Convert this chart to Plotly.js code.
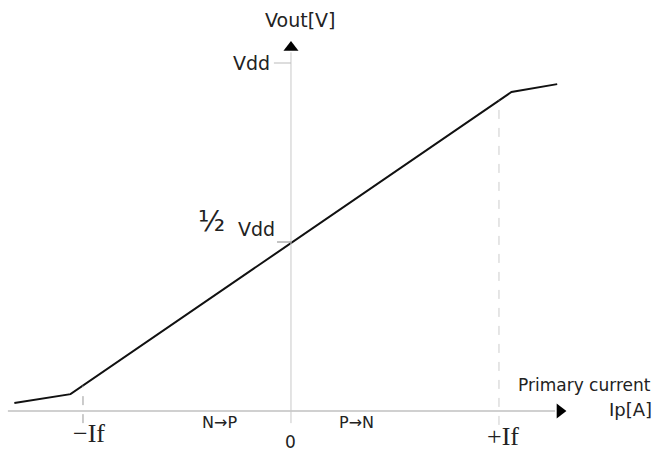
<!DOCTYPE html>
<html>
<head>
<meta charset="utf-8">
<script src="https://cdn.plot.ly/plotly-3.0.1.min.js"></script>
<style>html,body{margin:0;padding:0;background:#fff;}#chart{width:656px;height:454px;}</style>
</head>
<body>
<div id="chart"></div>
<script>
// Characteristic curve (x in units of If, y in units of Vdd)
var currentIf = [-1.33, -1.06, 1.06, 1.28];
var voutVdd = [0.050, 0.075, 0.919, 0.941];
// Tick positions and labels
var xTickVals = [-1, 0, 1];
var xTickText = ['\u2212If', '0', '+If'];
var yTickVals = [1, 0.5];
var yTickText = ['Vdd', 'Vdd'];
var axisY = 0.028; // horizontal axis position (schematic)

function interp(x) {
  for (var i = 0; i < currentIf.length - 1; i++) {
    if (x >= currentIf[i] && x <= currentIf[i + 1]) {
      var t = (x - currentIf[i]) / (currentIf[i + 1] - currentIf[i]);
      return voutVdd[i] + t * (voutVdd[i + 1] - voutVdd[i]);
    }
  }
  return 0;
}

var sans = '"DejaVu Sans", "Noto Sans", sans-serif';
var serif = '"Liberation Serif", "DejaVu Serif", serif';

var traces = [
  {x: currentIf, y: voutVdd, mode: 'lines', line: {color: '#111', width: 2}, hoverinfo: 'skip'},
  {x: [1.293], y: [axisY], mode: 'markers', marker: {symbol: 'triangle-right', size: 13, color: '#000'}, hoverinfo: 'skip'},
  {x: [0], y: [1.043], mode: 'markers', marker: {symbol: 'triangle-up', size: 13, color: '#000'}, hoverinfo: 'skip'}
];

var shapes = [
  {type: 'line', x0: -1.361, x1: 1.27, y0: axisY, y1: axisY, line: {color: '#d0d0d0', width: 2}},
  {type: 'line', x0: 0, x1: 0, y0: -0.006, y1: 1.03, line: {color: '#c8c8c8', width: 1}},
  {type: 'line', x0: -0.082, x1: 0, y0: yTickVals[0], y1: yTickVals[0], line: {color: '#bbb', width: 1}},
  {type: 'line', x0: -0.067, x1: 0, y0: yTickVals[1], y1: yTickVals[1], line: {color: '#888', width: 1}},
  {type: 'line', x0: xTickVals[0], x1: xTickVals[0], y0: -0.006, y1: interp(xTickVals[0]), line: {color: '#999', width: 1, dash: 'dash'}},
  {type: 'line', x0: xTickVals[2], x1: xTickVals[2], y0: -0.011, y1: interp(xTickVals[2]), line: {color: '#ccc', width: 1, dash: 'dash'}}
];

function ann(x, y, text, size, fam, xanchor) {
  return {x: x, y: y, xref: 'x', yref: 'y', text: text, showarrow: false,
    font: {family: fam, size: size, color: '#222'}, xanchor: xanchor || 'center', yanchor: 'middle'};
}

var annotations = [
  ann(0.043, 1.121, 'Vout[V]', 19, sans),
  ann(-0.091, yTickVals[0], yTickText[0], 19, sans, 'right'),
  ann(-0.380, 0.556, '\u00BD', 28, sans),
  ann(-0.168, 0.537, yTickText[1], 19, sans),
  ann(1.409, 0.101, 'Primary current', 17, sans),
  ann(1.745, 0.031, 'Ip[A]', 18, sans, 'right'),
  ann(-0.97, -0.036, xTickText[0], 26, serif),
  ann(xTickVals[1], -0.058, xTickText[1], 17, sans),
  ann(1.02, -0.042, xTickText[2], 26, serif),
  ann(-0.346, -0.005, 'N\u2192P', 16, sans),
  ann(0.317, -0.005, 'P\u2192N', 16, sans)
];

var layout = {
  width: 656, height: 454,
  margin: {l: 0, r: 0, t: 0, b: 0},
  paper_bgcolor: '#fff', plot_bgcolor: '#fff',
  showlegend: false,
  xaxis: {visible: false, range: [-1.399, 1.755], fixedrange: true},
  yaxis: {visible: false, range: [-0.0922, 1.176], fixedrange: true},
  shapes: shapes,
  annotations: annotations
};

Plotly.newPlot('chart', traces, layout, {displayModeBar: false, staticPlot: true});
</script>
</body>
</html>
